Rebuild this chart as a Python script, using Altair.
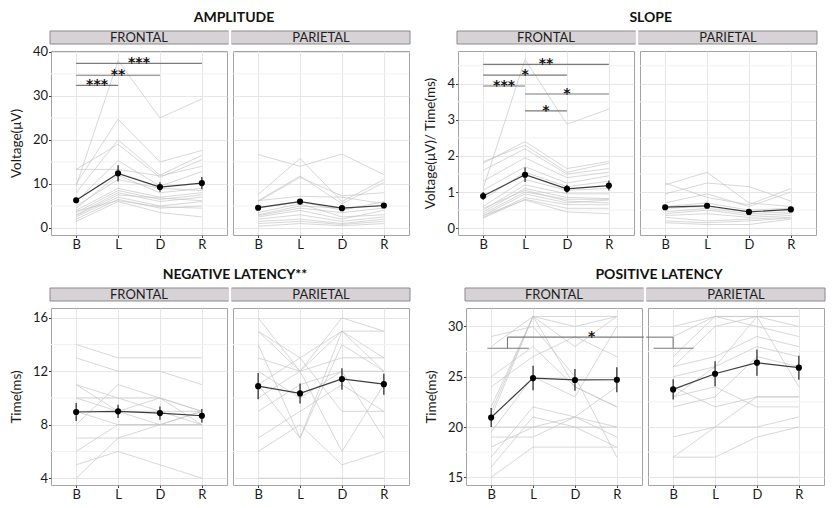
import altair as alt
import pandas as pd

COND = ["B", "L", "D", "R"]
XPOS = [1, 2, 3, 4]
REGIONS = ["FRONTAL", "PARIETAL"]

# individual subjects, values at B, L, D, R
AMP_FRONTAL = [
    [9.5, 38.0, 25.0, 29.3], [10.0, 24.7, 15.0, 17.6], [8.0, 20.0, 12.0, 16.5],
    [13.3, 19.0, 11.5, 15.5], [13.3, 13.3, 11.8, 14.0], [6.0, 15.3, 9.5, 12.8],
    [4.5, 12.0, 8.0, 9.0], [5.0, 11.0, 9.0, 8.5], [4.0, 9.0, 7.0, 8.0],
    [3.5, 8.5, 6.5, 7.5], [3.0, 8.0, 6.0, 7.0], [2.8, 7.5, 6.8, 6.2],
    [2.5, 7.0, 5.0, 6.0], [2.0, 6.5, 4.5, 5.0], [1.5, 6.0, 3.5, 2.5],
    [3.8, 6.2, 4.8, 4.5],
]
AMP_PARIETAL = [
    [16.7, 14.0, 16.8, 12.1], [7.6, 15.8, 6.0, 11.0], [6.2, 11.8, 5.5, 10.3],
    [6.0, 11.5, 7.3, 8.0], [6.2, 7.2, 7.0, 5.5], [4.5, 6.0, 4.0, 6.0],
    [3.0, 5.0, 4.5, 5.0], [2.8, 4.5, 3.5, 4.5], [2.5, 4.0, 2.0, 4.0],
    [2.0, 3.0, 1.5, 2.5], [1.5, 2.0, 1.0, 2.0], [1.0, 1.5, 0.8, 1.5],
    [0.4, 1.0, 0.5, 1.0], [3.5, 5.5, 2.5, 3.0],
]
SLOPE_FRONTAL = [
    [1.1, 4.68, 2.88, 3.30], [1.8, 2.40, 1.65, 1.85], [1.84, 2.30, 1.55, 1.80],
    [1.6, 2.20, 1.50, 1.65], [1.3, 1.95, 1.40, 1.55], [1.05, 1.70, 1.25, 1.45],
    [0.8, 1.55, 1.15, 1.30], [0.6, 1.35, 1.05, 1.10], [0.5, 1.20, 0.95, 0.95],
    [0.45, 1.10, 0.85, 0.82], [0.4, 1.00, 0.80, 0.80], [0.35, 0.95, 0.70, 0.78],
    [0.3, 0.85, 0.65, 0.65], [0.28, 0.80, 0.55, 0.55], [0.35, 0.78, 0.45, 0.40],
    [0.55, 1.05, 0.75, 0.70],
]
SLOPE_PARIETAL = [
    [1.25, 0.85, 0.65, 1.10], [1.20, 1.55, 0.70, 0.60], [0.95, 1.25, 1.15, 0.75],
    [0.70, 0.95, 0.60, 1.00], [0.60, 0.70, 0.50, 0.55], [0.55, 0.60, 0.45, 0.50],
    [0.45, 0.55, 0.40, 0.45], [0.40, 0.50, 0.35, 0.40], [0.35, 0.40, 0.30, 0.35],
    [0.30, 0.20, 0.25, 0.30], [0.20, 0.15, 0.20, 0.28], [0.15, 0.10, 0.10, 0.25],
]
NEG_FRONTAL = [
    [14, 13, 13, 13], [13, 12, 12, 11], [11, 10, 9, 9], [10, 10, 10, 9],
    [9, 9, 10, 8], [9, 8, 8, 8], [7, 7, 7, 7], [6, 8, 8, 9], [5, 6, 5, 4],
    [4, 7, 8, 9], [11, 9, 9, 8], [10, 9, 8, 8], [8, 11, 10, 9],
]
NEG_PARIETAL = [
    [16, 12, 16, 15], [15, 13, 15, 15], [14, 7, 15, 12], [13, 12, 13, 13],
    [11, 7, 14, 12], [10, 12, 6, 11], [9, 11, 12, 7], [7, 9, 11, 9],
    [6, 8, 5, 6], [4, 4, 4, 4], [12, 10, 12, 12], [11, 13, 9, 9], [15, 12, 15, 13],
]
POS_FRONTAL = [
    [22, 31, 31, 31], [21.5, 31, 28, 31], [21, 31, 24, 22], [20, 20, 21, 20],
    [19, 19, 21, 19], [18, 20, 20, 18], [17, 22, 21, 24], [15, 18, 18, 18],
    [28, 31, 30, 31], [29, 30, 25, 17], [19.5, 25, 23, 30], [16, 21, 20, 20],
    [25, 28, 24, 22], [24, 27, 29, 27],
]
POS_PARIETAL = [
    [27, 31, 31, 31], [26, 30, 31, 30], [26, 27, 29, 28], [25, 26, 31, 24],
    [24, 22, 23, 23], [23, 24, 22, 22], [19, 20, 20, 21], [17, 17, 19, 20],
    [17, 20, 23, 23], [15, 15, 15, 15], [30, 31, 31, 31], [29, 31, 30, 29],
    [22, 23, 27, 26], [23, 26, 28, 27],
]

# group means and standard errors at B, L, D, R
AMP_F_MEAN, AMP_F_SE = [6.3, 12.4, 9.3, 10.2], [0.6, 1.85, 1.1, 1.4]
AMP_P_MEAN, AMP_P_SE = [4.6, 6.0, 4.5, 5.1], [0.5, 0.6, 0.5, 0.5]
SLOPE_F_MEAN, SLOPE_F_SE = [0.89, 1.48, 1.09, 1.18], [0.11, 0.2, 0.11, 0.14]
SLOPE_P_MEAN, SLOPE_P_SE = [0.58, 0.62, 0.45, 0.52], [0.05, 0.05, 0.04, 0.04]
NEG_F_MEAN, NEG_F_SE = [8.95, 9.0, 8.87, 8.67], [0.67, 0.5, 0.5, 0.5]
NEG_P_MEAN, NEG_P_SE = [10.88, 10.34, 11.42, 11.03], [0.98, 0.75, 0.8, 0.78]
POS_F_MEAN, POS_F_SE = [20.94, 24.87, 24.68, 24.7], [0.95, 1.22, 1.08, 1.25]
POS_P_MEAN, POS_P_SE = [23.74, 25.3, 26.4, 25.9], [1.0, 1.25, 1.3, 1.2]

# significance brackets: (x from, x to, y from, y to)
AMP_F_SIG = [(1, 2, 32.4, 32.4), (1, 3, 34.7, 34.7), (1, 4, 37.4, 37.4)]
AMP_F_STARS = [(1.5, 32.4, "***"), (2.0, 34.7, "**"), (2.5, 37.4, "***")]
SLOPE_F_SIG = [(1, 2, 3.94, 3.94), (1, 3, 4.24, 4.24), (1, 4, 4.54, 4.54),
               (2, 4, 3.72, 3.72), (2, 3, 3.25, 3.25)]
SLOPE_F_STARS = [(1.5, 3.94, "***"), (2.0, 4.24, "*"), (2.5, 4.54, "**"),
                 (3.0, 3.72, "*"), (2.5, 3.25, "*")]
POS_F_SIG = [(0.91, 1.9, 27.84, 27.84), (1.39, 1.39, 27.84, 28.94), (1.39, 4.645, 28.94, 28.94)]
POS_F_STARS = [(3.4, 28.94, "*")]
POS_P_SIG = [(0.355, 1.0, 28.94, 28.94), (1.0, 1.0, 27.84, 28.94), (0.53, 1.49, 27.84, 27.84)]

FONT = "Lato"
W = 176
GRID_MINOR = "#f1f1f1"


def panel(rows, means, ses, ydom, yticks, yminor, H, region, ytitle=None,
          sig=None, stars=None):
    first = region == "FRONTAL"
    recs = []
    for s, row in enumerate(rows):
        for x, v in zip(XPOS, row):
            recs.append({"s": s, "x": x, "v": v})
    subj = pd.DataFrame(recs)
    mdf = pd.DataFrame({"x": XPOS, "v": means,
                        "lo": [m - e for m, e in zip(means, ses)],
                        "hi": [m + e for m, e in zip(means, ses)]})

    xsc = alt.Scale(domain=[0.4, 4.6], nice=False, zero=False)
    ysc = alt.Scale(domain=ydom, nice=False, zero=False)
    xax = alt.Axis(values=XPOS, title=None, grid=True, ticks=True, domain=False,
                   labelAngle=0, labelPadding=1,
                   labelExpr="['B','L','D','R'][datum.value - 1]")
    if first:
        yax = alt.Axis(values=yticks, title=ytitle, grid=True, ticks=True, domain=False,
                       labelPadding=1, titlePadding=9)
    else:
        yax = alt.Axis(values=yticks, title=None, grid=True, ticks=False, labels=False,
                       domain=False)

    X = lambda f="x": alt.X(f + ":Q", scale=xsc, axis=xax)
    Y = lambda f="v": alt.Y(f + ":Q", scale=ysc, axis=yax)

    layers = []
    layers.append(alt.Chart(pd.DataFrame({"v": yminor})).mark_rule(
        color=GRID_MINOR, strokeWidth=1).encode(y=Y()))
    layers.append(alt.Chart(subj).mark_line(color="#c3c3c3", strokeWidth=0.8, opacity=0.85).encode(
        x=X(), y=Y(), detail="s:N"))
    if sig:
        sdf = pd.DataFrame(sig, columns=["x", "x2", "v", "v2"])
        layers.append(alt.Chart(sdf).mark_rule(color="#7a7a7a", strokeWidth=1.1).encode(
            x=X(), x2="x2:Q", y=Y(), y2="v2:Q"))
    if stars:
        tdf = pd.DataFrame(stars, columns=["x", "v", "t"])
        layers.append(alt.Chart(tdf).mark_text(font="DejaVu Sans", fontSize=14, fontWeight="bold",
                                               color="#111", baseline="alphabetic", dy=4).encode(
            x=X(), y=Y(), text="t:N"))
    layers.append(alt.Chart(mdf).mark_line(color="#3c3c3c", strokeWidth=1.2).encode(x=X(), y=Y()))
    layers.append(alt.Chart(mdf).mark_rule(color="#111", strokeWidth=1.1).encode(
        x=X(), y=Y("lo"), y2="hi:Q"))
    layers.append(alt.Chart(mdf).mark_point(filled=True, color="#000", size=38, opacity=1).encode(
        x=X(), y=Y()))

    # strip header
    one = pd.DataFrame({"a": [0]})
    if first:
        sx1, sx2, lx1, lx2 = -1, W + 2, -1, W + 1.5
    else:
        sx1, sx2, lx1, lx2 = -2, W + 1, -1.5, W + 1
    layers.append(alt.Chart(one).mark_rect(color="#d6d2d6").encode(
        x=alt.value(sx1), x2=alt.value(sx2), y=alt.value(-20), y2=alt.value(-7)))
    for yy in (-20, -7):
        layers.append(alt.Chart(one).mark_rule(color="#8a8a8a", strokeWidth=1).encode(
            x=alt.value(lx1), x2=alt.value(lx2), y=alt.value(yy)))
    edge = -1 if first else W + 1
    layers.append(alt.Chart(one).mark_rule(color="#8a8a8a", strokeWidth=1).encode(
        x=alt.value(edge), y=alt.value(-20), y2=alt.value(-7)))
    layers.append(alt.Chart(one).mark_text(font=FONT, fontSize=13, color="#1e1e1e",
                                           baseline="middle").encode(
        x=alt.value(W / 2), y=alt.value(-13), text=alt.value(region)))

    return alt.layer(*layers).properties(width=W, height=H)


def block(title, f, p, dx):
    return alt.hconcat(f, p, spacing=0,
                       title=alt.Title(title, anchor="middle", dx=dx, offset=5,
                                       font=FONT, fontSize=14, fontWeight="bold", color="#111"))


H1, H2 = 184, 177

amp = block(
    "AMPLITUDE",
    panel(AMP_FRONTAL, AMP_F_MEAN, AMP_F_SE, [-1.6, 40.2], [0, 10, 20, 30, 40], [5, 15, 25, 35],
          H1, "FRONTAL", ytitle="Voltage(μV)", sig=AMP_F_SIG, stars=AMP_F_STARS),
    panel(AMP_PARIETAL, AMP_P_MEAN, AMP_P_SE, [-1.6, 40.2], [0, 10, 20, 30, 40], [5, 15, 25, 35],
          H1, "PARIETAL"),
    24,
)
slope = block(
    "SLOPE",
    panel(SLOPE_FRONTAL, SLOPE_F_MEAN, SLOPE_F_SE, [-0.19, 4.91], [0, 1, 2, 3, 4],
          [0.5, 1.5, 2.5, 3.5, 4.5], H1, "FRONTAL", ytitle="Voltage(μV)/ Time(ms)",
          sig=SLOPE_F_SIG, stars=SLOPE_F_STARS),
    panel(SLOPE_PARIETAL, SLOPE_P_MEAN, SLOPE_P_SE, [-0.19, 4.91], [0, 1, 2, 3, 4],
          [0.5, 1.5, 2.5, 3.5, 4.5], H1, "PARIETAL"),
    30,
)
neg = block(
    "NEGATIVE LATENCY**",
    panel(NEG_FRONTAL, NEG_F_MEAN, NEG_F_SE, [3.49, 16.73], [4, 8, 12, 16], [6, 10, 14],
          H2, "FRONTAL", ytitle="Time(ms)"),
    panel(NEG_PARIETAL, NEG_P_MEAN, NEG_P_SE, [3.49, 16.73], [4, 8, 12, 16], [6, 10, 14],
          H2, "PARIETAL"),
    25,
)
pos = block(
    "POSITIVE LATENCY",
    panel(POS_FRONTAL, POS_F_MEAN, POS_F_SE, [14.23, 31.84], [15, 20, 25, 30], [17.5, 22.5, 27.5],
          H2, "FRONTAL", ytitle="Time(ms)", sig=POS_F_SIG, stars=POS_F_STARS),
    panel(POS_PARIETAL, POS_P_MEAN, POS_P_SE, [14.23, 31.84], [15, 20, 25, 30], [17.5, 22.5, 27.5],
          H2, "PARIETAL", sig=POS_P_SIG),
    34,
)

chart = alt.vconcat(
    alt.hconcat(amp, slope, spacing=12),
    alt.hconcat(neg, pos, spacing=12),
    spacing=16,
).properties(
    padding={"top": 3, "left": 0, "right": 0, "bottom": 0}, background="white"
).configure_view(
    stroke="#a3a3a3", strokeWidth=1
).configure_axis(
    labelFont=FONT, labelFontSize=13, labelColor="#1a1a1a",
    titleFont=FONT, titleFontSize=13.5, titleFontWeight="normal", titleColor="#1a1a1a",
    gridColor="#e6e6e6", gridWidth=1, tickColor="#444", tickSize=2.5,
)

chart.save("out.html", embed_options={"renderer": "svg", "actions": False})
